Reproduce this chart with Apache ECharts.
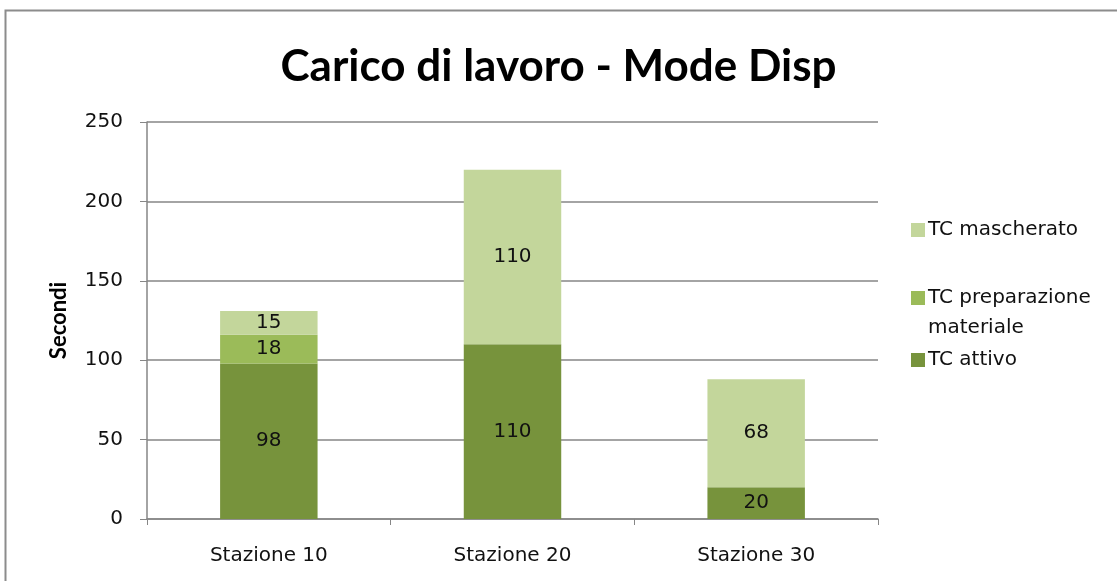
<!DOCTYPE html>
<html>
<head>
<meta charset="utf-8">
<script src="https://cdn.jsdelivr.net/npm/echarts@6/dist/echarts.min.js"></script>
<style>
  html, body { margin: 0; padding: 0; background: #fff; }
  #main { width: 1117px; height: 581px; }
</style>
</head>
<body>
<div id="main"></div>
<script>
var categories = ['Stazione 10', 'Stazione 20', 'Stazione 30'];
var attivo = [98, 110, 20];
var preparazione = [18, 0, 0];
var mascherato = [15, 110, 68];
var yTicks = [0, 50, 100, 150, 200, 250];

var myChart = echarts.init(document.getElementById('main'));

var labelStyle = {
  show: true,
  position: 'inside',
  color: '#111',
  fontFamily: 'DejaVu Sans',
  fontSize: 20,
  formatter: function (p) { return p.value ? p.value : ''; }
};

// one legend per entry so they can sit where Excel put them
function legendAt(name, top) {
  return {
    orient: 'vertical',
    left: 906,
    top: top,
    itemWidth: 14,
    itemHeight: 14,
    icon: 'rect',
    data: [name],
    formatter: function (n) {
      // blank first line keeps the icon next to the first text line
      return n === 'TC preparazione materiale' ? ' \nTC preparazione\nmateriale' : n;
    },
    textStyle: { fontFamily: 'DejaVu Sans', fontSize: 20, color: '#111', lineHeight: 30, padding: [0, 0, 0, -2] }
  };
}

myChart.setOption({
  animation: false,
  graphic: [{
    type: 'rect',
    shape: { x: 5.5, y: 10.5, width: 1130, height: 600 },
    style: { fill: 'none', stroke: '#8c8c8c', lineWidth: 2 }
  }],
  title: {
    text: 'Carico di lavoro - Mode Disp',
    left: 'center',
    top: 45,
    padding: 0,
    textStyle: { fontFamily: 'Lato', fontWeight: 'bold', fontSize: 44, color: '#000' }
  },
  legend: [
    legendAt('TC mascherato', 210),
    legendAt('TC preparazione materiale', 248),
    legendAt('TC attivo', 340)
  ],
  grid: { left: 147, right: 239, top: 122, bottom: 62 },
  xAxis: {
    type: 'category',
    data: categories,
    axisLine: { lineStyle: { color: '#868686', width: 1.5 } },
    axisTick: { show: true, length: 6, lineStyle: { color: '#868686' } },
    axisLabel: { color: '#111', fontFamily: 'DejaVu Sans', fontSize: 20, margin: 27 }
  },
  yAxis: {
    type: 'value',
    min: yTicks[0],
    max: yTicks[yTicks.length - 1],
    interval: 50,
    name: 'Secondi',
    nameLocation: 'middle',
    nameGap: 77,
    nameTextStyle: { fontFamily: 'Lato', fontWeight: 'bold', fontSize: 22, color: '#000' },
    axisLine: { show: true, lineStyle: { color: '#868686', width: 1.5 } },
    axisTick: { show: true, length: 7, lineStyle: { color: '#868686' } },
    axisLabel: { color: '#111', fontFamily: 'DejaVu Sans', fontSize: 20, margin: 24 },
    splitLine: { lineStyle: { color: '#868686', width: 1.5 } }
  },
  series: [
    { name: 'TC attivo', type: 'bar', stack: 'tot', barWidth: '40%', data: attivo,
      itemStyle: { color: '#77933c' }, label: labelStyle },
    { name: 'TC preparazione materiale', type: 'bar', stack: 'tot', data: preparazione,
      itemStyle: { color: '#9bbb59' }, label: labelStyle },
    { name: 'TC mascherato', type: 'bar', stack: 'tot', data: mascherato,
      itemStyle: { color: '#c3d69b' }, label: labelStyle }
  ]
});
</script>
</body>
</html>
